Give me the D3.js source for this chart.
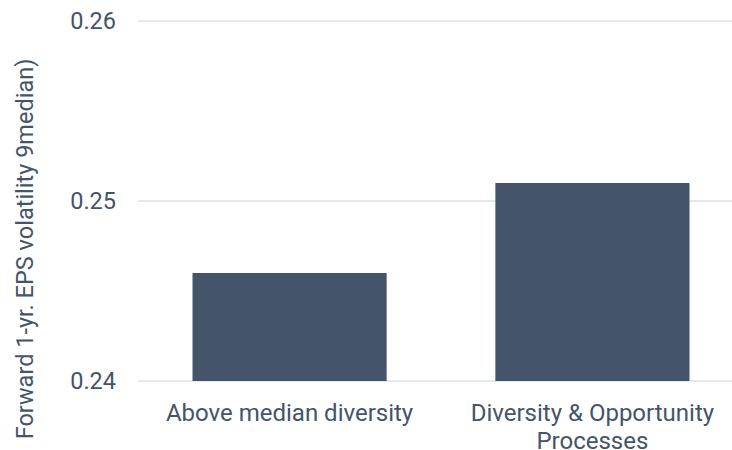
<!DOCTYPE html>
<html>
<head>
<meta charset="utf-8">
<script src="https://cdn.jsdelivr.net/npm/d3@7"></script>
<style>
  html, body { margin: 0; padding: 0; background: #fff; }
  svg { display: block; font-family: Roboto, "Noto Sans", sans-serif; }
</style>
</head>
<body>
<svg id="chart" width="732" height="450"></svg>
<script>
const categories = [["Above median diversity"], ["Diversity & Opportunity", "Processes"]];
const values = [0.246, 0.251];
const yTicks = [0.24, 0.25, 0.26];
const yTitle = "Forward 1-yr. EPS volatility 9median)";

const svg = d3.select("#chart");
const textColor = "#44546a";
const barColor = "#44546a";
const gridColor = "#dde1e6";

const x = d3.scaleBand()
  .domain(categories.map((d, i) => i))
  .range([138, 744])
  .paddingInner(0.359)
  .paddingOuter(0.18);

const y = d3.scaleLinear().domain([0.24, 0.26]).range([381, 21]);

// gridlines
svg.append("g").selectAll("line").data(yTicks).join("line")
  .attr("x1", 138).attr("x2", 744)
  .attr("y1", d => y(d)).attr("y2", d => y(d))
  .attr("stroke", gridColor).attr("stroke-width", 1.5);

// y tick labels
svg.append("g").selectAll("text").data(yTicks).join("text")
  .attr("x", 116).attr("y", d => y(d))
  .attr("dy", "0.35em")
  .attr("text-anchor", "end")
  .attr("fill", textColor)
  .attr("font-size", 23.5)
  .text(d => d3.format(".2f")(d));

// bars
svg.append("g").selectAll("rect").data(values).join("rect")
  .attr("x", (d, i) => x(i))
  .attr("width", x.bandwidth())
  .attr("y", d => y(d))
  .attr("height", d => y(0.24) - y(d))
  .attr("fill", barColor);

// category labels
const cat = svg.append("g").selectAll("text").data(categories).join("text")
  .attr("text-anchor", "middle")
  .attr("fill", textColor)
  .attr("font-size", 24)
  .attr("x", (d, i) => x(i) + x.bandwidth() / 2)
  .attr("y", 421);
cat.selectAll("tspan").data(d => d).join("tspan")
  .attr("x", function() { return this.parentNode.getAttribute("x"); })
  .attr("dy", (d, i) => i === 0 ? 0 : 27.5)
  .text(d => d);

// y axis title
svg.append("text")
  .attr("transform", "translate(33,249) rotate(-90)")
  .attr("text-anchor", "middle")
  .attr("fill", textColor)
  .attr("font-size", 23.5)
  .text(yTitle);
</script>
</body>
</html>
